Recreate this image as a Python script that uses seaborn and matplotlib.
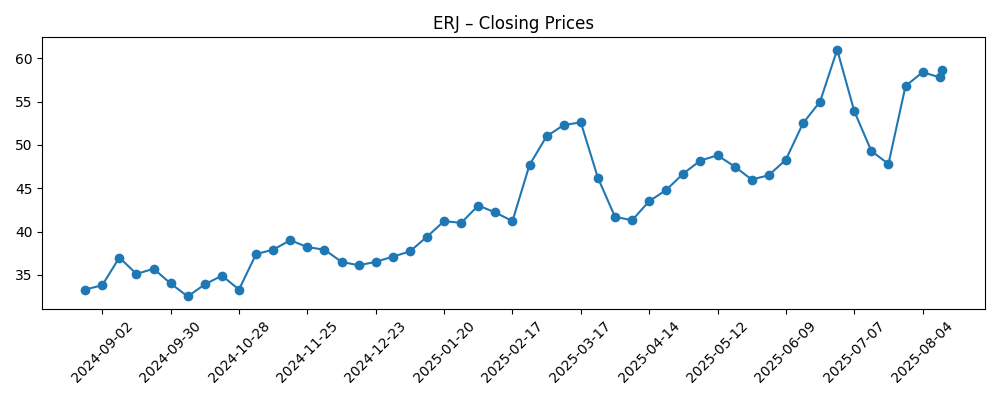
import matplotlib
matplotlib.use("Agg")
import matplotlib.pyplot as plt
import seaborn as sns
import pandas as pd
import matplotlib.dates as mdates

dates = ["2024-08-26","2024-09-02","2024-09-09","2024-09-16","2024-09-23","2024-09-30","2024-10-07","2024-10-14","2024-10-21","2024-10-28",
"2024-11-04","2024-11-11","2024-11-18","2024-11-25","2024-12-02","2024-12-09","2024-12-16","2024-12-23","2024-12-30","2025-01-06",
"2025-01-13","2025-01-20","2025-01-27","2025-02-03","2025-02-10","2025-02-17","2025-02-24","2025-03-03","2025-03-10","2025-03-17",
"2025-03-24","2025-03-31","2025-04-07","2025-04-14","2025-04-21","2025-04-28","2025-05-05","2025-05-12","2025-05-19","2025-05-26",
"2025-06-02","2025-06-09","2025-06-16","2025-06-23","2025-06-30","2025-07-07","2025-07-14","2025-07-21","2025-07-28","2025-08-04",
"2025-08-11","2025-08-12"]
closes = [33.3,33.8,37.0,35.1,35.7,34.0,32.5,33.9,34.9,33.3,
37.4,37.9,39.0,38.2,37.9,36.5,36.1,36.5,37.1,37.7,
39.4,41.2,41.0,43.0,42.2,41.2,47.7,51.0,52.3,52.6,
46.2,41.7,41.3,43.5,44.8,46.7,48.2,48.8,47.5,46.0,
46.5,48.3,52.5,55.0,61.0,53.9,49.3,47.8,56.8,58.4,
57.8,58.7]
tick_labels = ["2024-09-02","2024-09-30","2024-10-28","2024-11-25","2024-12-23","2025-01-20","2025-02-17",
"2025-03-17","2025-04-14","2025-05-12","2025-06-09","2025-07-07","2025-08-04"]

df = pd.DataFrame({"Date": pd.to_datetime(dates), "Close": closes})
fig, ax = plt.subplots(figsize=(10, 4), dpi=100)
sns.lineplot(data=df, x="Date", y="Close", marker="o", markersize=7, markeredgewidth=0, color="#1f77b4", ax=ax)
ax.set_xticks(pd.to_datetime(tick_labels))
ax.set_xticklabels(tick_labels, rotation=45)
ax.set_title("ERJ – Closing Prices")
ax.set_xlabel("")
ax.set_ylabel("")
fig.tight_layout()
fig.savefig("out.png")
